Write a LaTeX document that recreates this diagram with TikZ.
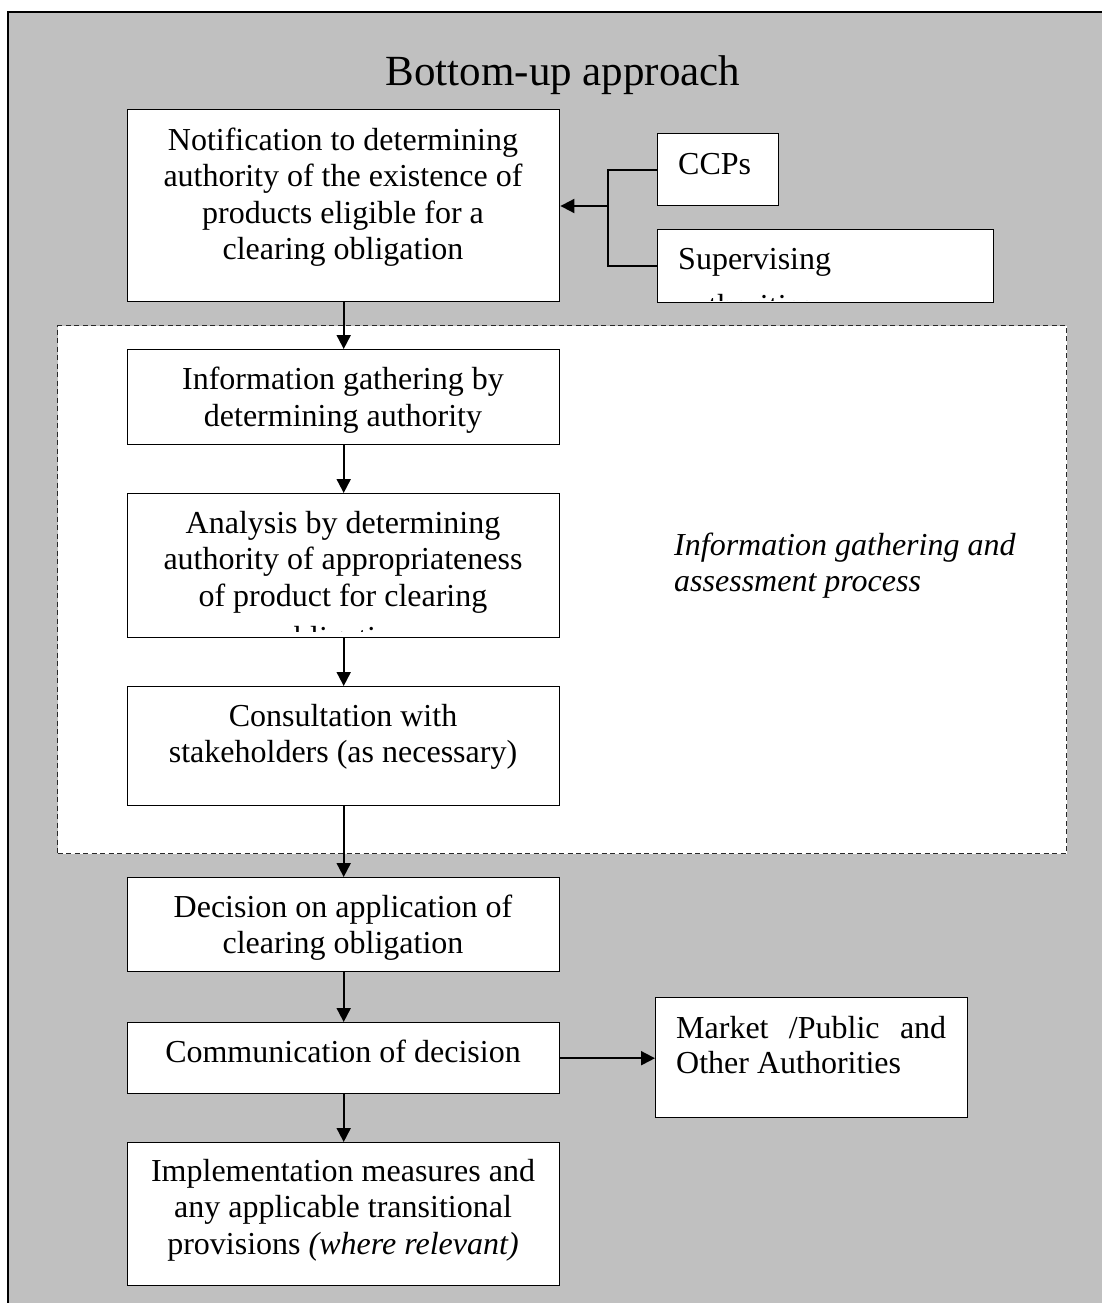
\documentclass[tikz,border=0pt]{standalone}
\usepackage{fontspec}
\setmainfont{Liberation Serif}
\usetikzlibrary{arrows.meta}
\definecolor{bggray}{RGB}{192,192,192}
\definecolor{dashgray}{RGB}{40,40,40}
\tikzset{
  box/.style={draw=black, line width=1.4pt, fill=white, rectangle, inner sep=0pt, anchor=north west},
  txt/.style={inner sep=0pt, align=center, anchor=north, font=\fontsize{32}{36.5}\selectfont},
  ltxt/.style={inner sep=0pt, align=left, anchor=north west, font=\fontsize{32}{36.5}\selectfont},
  arr/.style={line width=1.9pt, -{Triangle[length=14pt,width=14pt]}},
  conn/.style={line width=1.9pt},
  grpbox/.style={draw=dashgray, line width=1pt, dash pattern=on 5pt off 3.5pt, fill=white, rectangle, inner sep=0pt, anchor=north west},
}
\begin{document}
\begin{tikzpicture}[x=1pt,y=-1pt]
\useasboundingbox (0,0) rectangle (1102,1303);
\clip (0,0) rectangle (1102,1303);
% outer frame
\draw[line width=1.6pt, fill=bggray] (8,12) rectangle (1130,1330);
% title
\node[inner sep=0pt, anchor=base, font=\fontsize{43}{50}\selectfont] (title) at (563,86) {Bottom-up approach};
% dashed group
\node[grpbox, minimum width=1009pt, minimum height=528pt] (grp) at (57,325) {};
% boxes
\node[box, minimum width=432pt, minimum height=192pt] (notif) at (127,109) {};
\node[box, minimum width=121pt, minimum height=72pt] (ccp) at (657,133) {};
\node[box, minimum width=336pt, minimum height=73pt] (sup) at (657,229) {};
\node[box, minimum width=432pt, minimum height=95pt] (info) at (127,349) {};
\node[box, minimum width=432pt, minimum height=144pt] (anal) at (127,493) {};
\node[box, minimum width=432pt, minimum height=119pt] (cons) at (127,686) {};
\node[box, minimum width=432pt, minimum height=94pt] (dec) at (127,877) {};
\node[box, minimum width=432pt, minimum height=71pt] (comm) at (127,1022) {};
\node[box, minimum width=432pt, minimum height=143pt] (impl) at (127,1142) {};
\node[box, minimum width=312pt, minimum height=120pt] (mkt) at (655,997) {};
% texts
\node[txt] (tnotif) at (343,124.5) {\strut Notification to determining\\authority of the existence of\\products eligible for a\\clearing obligation};
\node[inner sep=0pt, anchor=base west, font=\fontsize{32}{36.5}\selectfont] (tccp) at (678,174) {CCPs};
\begin{scope}
  \clip ([yshift=-1pt]sup.north west) rectangle ([yshift=3pt]sup.south east);
  \node[ltxt] (tsup) at (678,243.5) {\strut Supervising\\[10.5pt]authorities};
\end{scope}
\node[txt] (tinfo) at (343,364) {\strut Information gathering by\\determining authority};
\begin{scope}
  \clip ([yshift=-1pt]anal.north west) rectangle ([yshift=7pt]anal.south east);
  \node[txt] (tanal) at (343,507.45) {\strut Analysis by determining\\authority of appropriateness\\of product for clearing\\[6pt]obligation};
\end{scope}
\node[txt] (tcons) at (343,700.45) {\strut Consultation with\\stakeholders (as necessary)};
\node[txt] (tdec) at (343,891.45) {\strut Decision on application of\\clearing obligation};
\node[txt] (tcomm) at (343,1036.5) {\strut Communication of decision};
\node[txt] (timpl) at (343,1155.5) {\strut Implementation measures and\\any applicable transitional\\provisions \textit{(where relevant)}};
\node[ltxt, font=\fontsize{32}{36}\selectfont\itshape] (tproc) at (674,530.5) {\strut Information gathering and\\assessment process};
\node[ltxt, font=\fontsize{32}{35}\selectfont] (tmkt) at (676,1013.5) {\strut\makebox[270pt][s]{Market /Public and}\\Other Authorities};
% connectors
\coordinate (j) at (608,206);
\draw[conn] (ccp.west) -- (ccp.west -| j) -- (sup.west -| j) -- (sup.west);
\draw[arr] (j) -- (j -| notif.east);
\draw[arr] (notif.south) -- (info.north);
\draw[arr] (info.south) -- (anal.north);
\draw[arr] (anal.south) -- (cons.north);
\draw[arr] (cons.south) -- (dec.north);
\draw[arr] (dec.south) -- (comm.north);
\draw[arr] (comm.south) -- (impl.north);
\draw[arr] (comm.east) -- (comm.east -| mkt.west);
\end{tikzpicture}
\end{document}
